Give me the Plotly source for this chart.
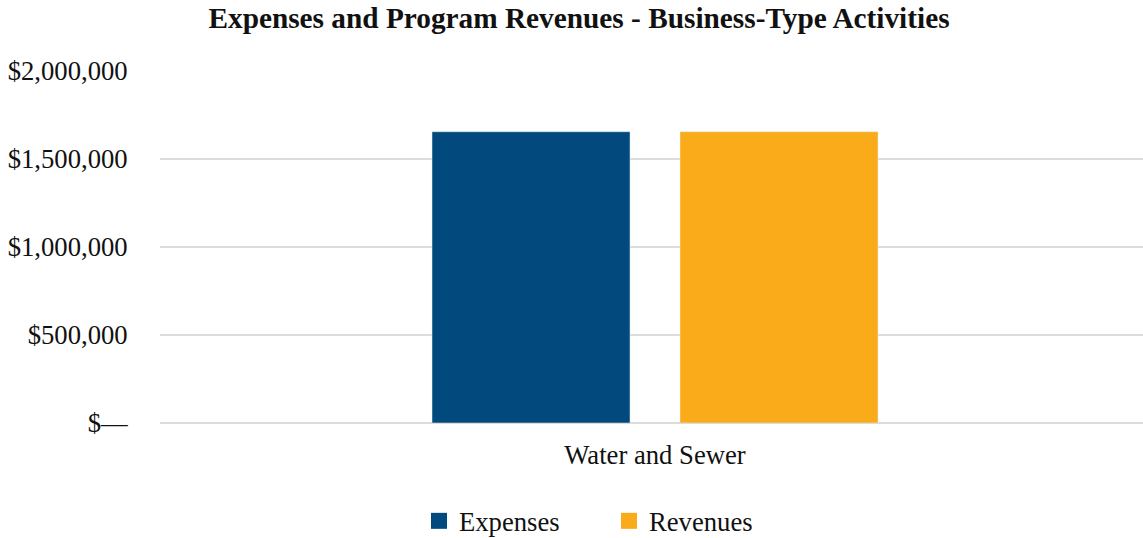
import plotly.graph_objects as go

categories = ["Water and Sewer"]
expenses = [1655000]
revenues = [1655000]
tick_vals = [0, 500000, 1000000, 1500000, 2000000]
tick_text = ["$\u2014", "$500,000", "$1,000,000", "$1,500,000", "$2,000,000"]

FONT = "Liberation Serif, Times New Roman, serif"
C_EXP = "#024a7d"
C_REV = "#f9ab19"

fig = go.Figure()
fig.add_trace(go.Bar(name="Expenses", x=categories, y=expenses, marker_color=C_EXP, showlegend=False))
fig.add_trace(go.Bar(name="Revenues", x=categories, y=revenues, marker_color=C_REV, showlegend=False))
# legend-only entries with larger square swatches
fig.add_trace(go.Scatter(name="Expenses", x=[None], y=[None], mode="markers",
                         marker=dict(symbol="square", size=16, color=C_EXP)))
fig.add_trace(go.Scatter(name="Revenues", x=[None], y=[None], mode="markers",
                         marker=dict(symbol="square", size=16, color=C_REV)))

fig.update_layout(
    width=1143, height=538,
    margin=dict(l=160, r=0, t=71, b=115),
    paper_bgcolor="white", plot_bgcolor="white",
    font=dict(family=FONT, size=26.67, color="#111111"),
    title=dict(text="<b>Expenses and Program Revenues - Business-Type Activities</b>",
               x=579 / 1143, xanchor="center", xref="container",
               y=1 - 18 / 538, yanchor="middle", yref="container",
               font=dict(family=FONT, size=29.3, color="#111111")),
    barmode="group", bargap=0.499, bargroupgap=0.2016,
    legend=dict(orientation="h", x=419 / 1143, xanchor="left", xref="container",
                y=1 - 521 / 538, yanchor="middle", yref="container",
                font=dict(family=FONT, size=26.67), itemwidth=30,
                entrywidth=145, entrywidthmode="pixels",
                traceorder="normal", itemsizing="trace"),
    showlegend=True,
)
fig.update_xaxes(range=[-0.5, 0.4929], showgrid=False, showline=False,
                 ticks="outside", ticklen=8, tickcolor="rgba(0,0,0,0)")
fig.update_yaxes(range=[0, 2000000], tickvals=tick_vals, ticktext=tick_text,
                 showgrid=True, gridcolor="#dcdcdc", gridwidth=1.5,
                 zeroline=True, zerolinecolor="#dcdcdc", zerolinewidth=1.5,
                 ticks="outside", ticklen=26, tickcolor="rgba(0,0,0,0)",
                 showline=False)

fig.write_html("out.html")
